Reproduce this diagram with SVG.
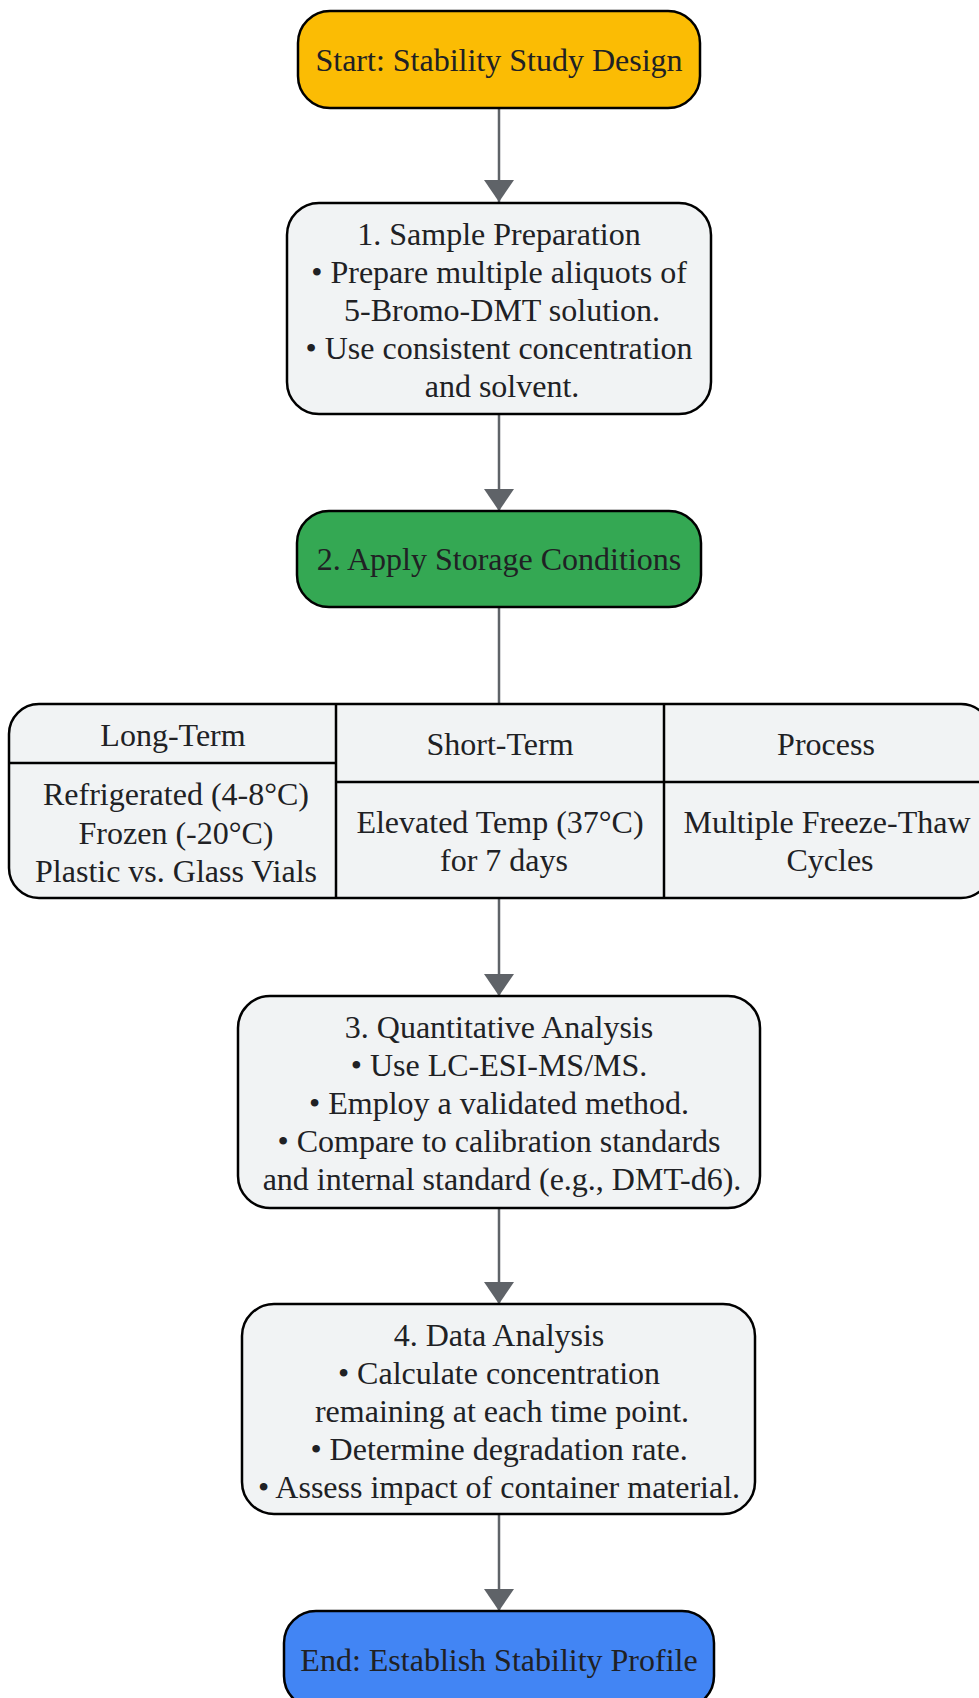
<svg xmlns="http://www.w3.org/2000/svg" width="979" height="1698" viewBox="0 0 979 1698">
<defs>
<style>
.n{stroke:#000;stroke-width:2.5}
.g{fill:#F1F3F4}
.t{font-family:"Liberation Serif","Times New Roman",serif;font-size:32px;fill:#202124;text-anchor:middle}
.c{stroke:#5F6368;stroke-width:2.5;fill:none}
.grid{stroke:#000;stroke-width:2.5;fill:none}
</style>
<marker id="ah" viewBox="0 0 22 30" markerWidth="22" markerHeight="30" refX="22" refY="15" orient="auto" markerUnits="userSpaceOnUse">
<path d="M0,0 L22,15 L0,30 z" fill="#5F6368"/>
</marker>
</defs>
<rect width="979" height="1698" fill="#fff"/>
<g id="connectors">
<line class="c" x1="499" y1="108" x2="499" y2="202" marker-end="url(#ah)"/>
<line class="c" x1="499" y1="414" x2="499" y2="511" marker-end="url(#ah)"/>
<line class="c" x1="499" y1="607" x2="499" y2="704"/>
<line class="c" x1="499" y1="898" x2="499" y2="996" marker-end="url(#ah)"/>
<line class="c" x1="499" y1="1208" x2="499" y2="1304" marker-end="url(#ah)"/>
<line class="c" x1="499" y1="1514" x2="499" y2="1611" marker-end="url(#ah)"/>
</g>
<g id="start">
<rect class="n" x="298" y="11" width="402" height="97" rx="32" fill="#FBBC04"/>
<text class="t" x="499" y="71">Start: Stability Study Design</text>
</g>
<g id="step1">
<rect class="n g" x="287" y="203" width="424" height="211" rx="32"/>
<text class="t" x="499" y="245">1. Sample Preparation</text>
<text class="t" x="499" y="283">• Prepare multiple aliquots of</text>
<text class="t" x="502" y="321">5-Bromo-DMT solution.</text>
<text class="t" x="499" y="359">• Use consistent concentration</text>
<text class="t" x="502" y="397">and solvent.</text>
</g>
<g id="step2">
<rect class="n" x="297" y="511" width="404" height="96" rx="32" fill="#34A853"/>
<text class="t" x="499" y="570">2. Apply Storage Conditions</text>
</g>
<g id="conditions">
<rect class="n g" x="9" y="704" width="982" height="194" rx="30"/>
<line class="grid" x1="336" y1="704" x2="336" y2="898"/>
<line class="grid" x1="664" y1="704" x2="664" y2="898"/>
<line class="grid" x1="9" y1="763" x2="336" y2="763"/>
<line class="grid" x1="336" y1="782" x2="991" y2="782"/>
<text class="t" x="173" y="746">Long-Term</text>
<text class="t" x="176" y="805">Refrigerated (4-8°C)</text>
<text class="t" x="176" y="844">Frozen (-20°C)</text>
<text class="t" x="176" y="882">Plastic vs. Glass Vials</text>
<text class="t" x="500" y="755">Short-Term</text>
<text class="t" x="500" y="833">Elevated Temp (37°C)</text>
<text class="t" x="504" y="871">for 7 days</text>
<text class="t" x="826" y="755">Process</text>
<text class="t" x="827" y="833">Multiple Freeze-Thaw</text>
<text class="t" x="830" y="871">Cycles</text>
</g>
<g id="step3">
<rect class="n g" x="238" y="996" width="522" height="212" rx="32"/>
<text class="t" x="499" y="1038">3. Quantitative Analysis</text>
<text class="t" x="499" y="1076">• Use LC-ESI-MS/MS.</text>
<text class="t" x="499" y="1114">• Employ a validated method.</text>
<text class="t" x="499" y="1152">• Compare to calibration standards</text>
<text class="t" x="502" y="1190">and internal standard (e.g., DMT-d6).</text>
</g>
<g id="step4">
<rect class="n g" x="242" y="1304" width="513" height="210" rx="32"/>
<text class="t" x="499" y="1346">4. Data Analysis</text>
<text class="t" x="499" y="1384">• Calculate concentration</text>
<text class="t" x="502" y="1422">remaining at each time point.</text>
<text class="t" x="499" y="1460">• Determine degradation rate.</text>
<text class="t" x="499" y="1498">• Assess impact of container material.</text>
</g>
<g id="end">
<rect class="n" x="284" y="1611" width="430" height="97" rx="32" fill="#4285F4"/>
<text class="t" x="499" y="1671">End: Establish Stability Profile</text>
</g>
</svg>
